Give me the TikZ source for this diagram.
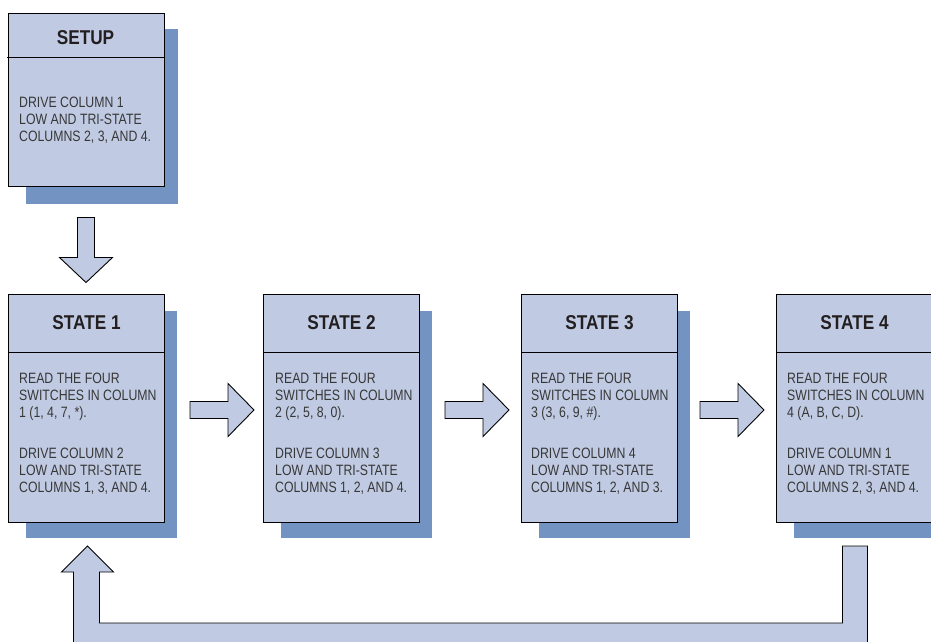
\documentclass[tikz,border=0pt]{standalone}
\usepackage{fontspec}
\usetikzlibrary{calc}
\newfontfamily\bodyfont{Liberation Sans}[FakeStretch=0.82]
\newfontfamily\headfont{Liberation Sans}[FakeStretch=0.86]
\definecolor{boxfill}{RGB}{192,203,227}
\definecolor{shadowc}{RGB}{115,148,194}
\definecolor{txt}{RGB}{55,55,55}
\definecolor{ttl}{RGB}{35,31,32}
\begin{document}
\begin{tikzpicture}[x=1pt,y=-1pt,
  statebox/.style={draw=black, line width=1pt, fill=boxfill, minimum width=156pt, inner sep=0pt},
  title/.style={font=\headfont\bfseries\fontsize{20}{20}\selectfont, text=ttl, inner sep=0pt},
  body/.style={font=\bodyfont\fontsize{15}{17}\selectfont, text=txt, align=left, anchor=north west, inner sep=0pt},
  blockarrow/.style={draw=black, line width=0.9pt, fill=boxfill, line join=miter}]
\useasboundingbox (0,0) rectangle (931,642);
\clip (0,0) rectangle (931,642);

% SETUP
\fill[shadowc] (26,29) rectangle (178,204);
\node[statebox, minimum height=173pt, anchor=north west] (setup) at (8,13) {};
\draw[line width=1pt] ($(setup.north west)+(-1,45)$) -- ($(setup.north east)+(0,45)$);
\node[title] (setupt) at ($(setup.north)+(-1,25)$) {SETUP};
\node[body] (setupb) at ($(setup.north west)+(11,84)$) {DRIVE COLUMN 1\\LOW AND TRI-STATE\\COLUMNS 2, 3, AND 4.};

% STATES
\foreach \nm/\xx/\tt in {s1/8/STATE 1, s2/263/STATE 2, s3/521/STATE 3, s4/776/STATE 4}{
  \fill[shadowc] (\xx+18,311) rectangle (\xx+169,538);
  \node[statebox, minimum height=228pt, anchor=north west] (\nm) at (\xx,294) {};
  \draw[line width=1pt] ($(\nm.north west)+(0,58)$) -- ($(\nm.north east)+(0,58)$);
  \node[title] (\nm t) at ($(\nm.north)+(0,29)$) {\tt};
}
\node[body] (s1b) at ($(s1.north west)+(11,79)$) {READ THE FOUR\\SWITCHES IN COLUMN\\1 (1, 4, 7, *).\\[24pt]DRIVE COLUMN 2\\LOW AND TRI-STATE\\COLUMNS 1, 3, AND 4.};
\node[body] (s2b) at ($(s2.north west)+(12,79)$) {READ THE FOUR\\SWITCHES IN COLUMN\\2 (2, 5, 8, 0).\\[24pt]DRIVE COLUMN 3\\LOW AND TRI-STATE\\COLUMNS 1, 2, AND 4.};
\node[body] (s3b) at ($(s3.north west)+(10,79)$) {READ THE FOUR\\SWITCHES IN COLUMN\\3 (3, 6, 9, \#).\\[24pt]DRIVE COLUMN 4\\LOW AND TRI-STATE\\COLUMNS 1, 2, AND 3.};
\node[body] (s4b) at ($(s4.north west)+(11,79)$) {READ THE FOUR\\SWITCHES IN COLUMN\\4 (A, B, C, D).\\[24pt]DRIVE COLUMN 1\\LOW AND TRI-STATE\\COLUMNS 2, 3, AND 4.};

% down arrow setup -> state 1
\coordinate (da) at ($(setup.south)+(-0.5,30.5)$);
\draw[blockarrow] (da) -- ++(8.5,0) -- ++(0,40) -- ++(18,0) -- ++(-26.5,25) -- ++(-26.5,-25) -- ++(18,0) -- ++(0,-40) -- cycle;

% right arrows
\coordinate (r1) at ($(s1.east)+(25,1.5)$);
\coordinate (r2) at ($(s2.east)+(25,1.5)$);
\coordinate (r3) at ($(s3.east)+(22,1.5)$);
\foreach \c in {r1,r2,r3}{
  \draw[blockarrow] (\c) ++(0,-8.5) -- ++(38,0) -- ++(0,-18) -- ++(26,26.5) -- ++(-26,26.5) -- ++(0,-18) -- ++(-38,0) -- cycle;
}

% return arrow state 4 -> state 1
\coordinate (ra) at ($(s4.south)+(-12,23)$);
\coordinate (rb) at ($(s1.south)+(1,23)$);
\draw[blockarrow] (ra) -- ++(25,0) -- ++(0,105) -- ($(rb)+(-14,105)$) -- ($(rb)+(-14,26)$) -- ($(rb)+(-26,26)$) -- (rb) -- ($(rb)+(26,26)$) -- ($(rb)+(12,26)$) -- ($(rb)+(12,77)$) -- ($(ra)+(0,77)$) -- cycle;
\end{tikzpicture}
\end{document}
